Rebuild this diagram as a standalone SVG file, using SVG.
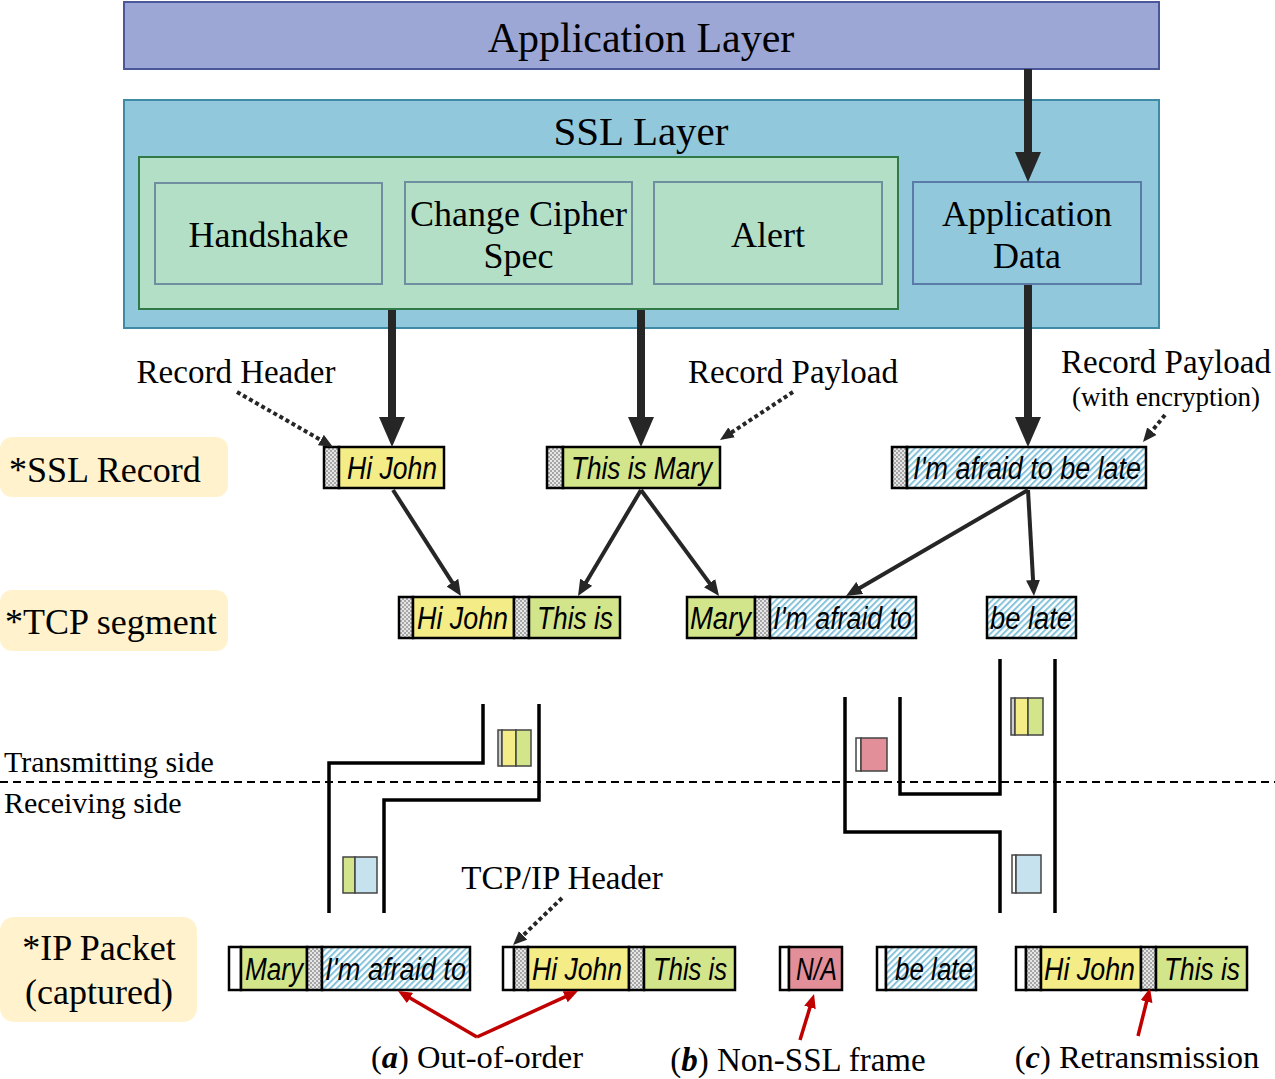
<svg xmlns="http://www.w3.org/2000/svg" width="1275" height="1079" viewBox="0 0 1275 1079">
<style>
.serif{font-family:"Liberation Serif","Times New Roman",serif;fill:#000}
.rec{font-family:"Liberation Sans",Arial,sans-serif;font-style:italic;font-size:31px;fill:#000}
.cell{stroke:#000;stroke-width:2.5}
.y{fill:#f3ec87}.g{fill:#d3e58b}.w{fill:#fff}.r{fill:#e28f99}
.h{fill:url(#hatch)}.c{fill:url(#check)}
.thick{stroke:#262626;stroke-width:8;fill:none}
.med{stroke:#262626;stroke-width:4;fill:none}
.dot{stroke:#262626;stroke-width:4;stroke-dasharray:4 3;fill:none}
.red{stroke:#c00000;stroke-width:3.5;fill:none}
.pipe{stroke:#000;stroke-width:3.5;fill:none}
.mini{stroke:#444;stroke-width:1.5}
.tag{fill:#fff2cc}
</style>
<defs>
<pattern id="hatch" patternUnits="userSpaceOnUse" width="4.5" height="4.5" patternTransform="rotate(45)">
<rect width="4.5" height="4.5" fill="#ffffff"/>
<rect width="2" height="4.5" fill="#86c3da"/>
</pattern>
<pattern id="check" patternUnits="userSpaceOnUse" width="4" height="4">
<rect width="4" height="4" fill="#e6e6e6"/>
<rect width="2" height="2" fill="#a6a6a6"/>
<rect x="2" y="2" width="2" height="2" fill="#a6a6a6"/>
</pattern>
<marker id="mThick" viewBox="0 0 30 26" refX="10" refY="13" markerWidth="30" markerHeight="26" markerUnits="userSpaceOnUse" orient="auto">
<path d="M0,0 L30,13 L0,26 z" fill="#262626"/>
</marker>
<marker id="mMed" viewBox="0 0 16 14" refX="8" refY="7" markerWidth="16" markerHeight="14" markerUnits="userSpaceOnUse" orient="auto">
<path d="M0,0 L16,7 L0,14 z" fill="#262626"/>
</marker>
<marker id="mDot" viewBox="0 0 14 12" refX="7" refY="6" markerWidth="14" markerHeight="12" markerUnits="userSpaceOnUse" orient="auto">
<path d="M0,0 L14,6 L0,12 z" fill="#262626"/>
</marker>
<marker id="mRed" viewBox="0 0 14 12" refX="7" refY="6" markerWidth="14" markerHeight="12" markerUnits="userSpaceOnUse" orient="auto">
<path d="M0,0 L14,6 L0,12 z" fill="#c00000"/>
</marker>
</defs>

<g id="app-layer">
<rect x="124" y="2" width="1035" height="67" fill="#9da7d5" stroke="#4a5899" stroke-width="2"/>
<text class="serif" x="641" y="52" font-size="42" text-anchor="middle">Application Layer</text>
</g>

<g id="ssl-layer">
<rect x="124" y="100" width="1035" height="228" fill="#92c8dc" stroke="#3f8ba5" stroke-width="2"/>
<text class="serif" x="641" y="145" font-size="41" text-anchor="middle">SSL Layer</text>
<rect x="139" y="157" width="759" height="152" fill="#b2dfc5" stroke="#2f7a47" stroke-width="2"/>
</g>
<g id="handshake">
<rect x="155" y="183" width="227" height="101" fill="#b2dfc5" stroke="#6f8fa0" stroke-width="2"/>
<text class="serif" x="268.5" y="247" font-size="36" text-anchor="middle">Handshake</text>
</g>
<g id="change-cipher-spec">
<rect x="405" y="182" width="227" height="102" fill="#b2dfc5" stroke="#6f8fa0" stroke-width="2"/>
<text class="serif" x="518.5" y="226" font-size="36" text-anchor="middle">Change Cipher</text>
<text class="serif" x="518.5" y="268" font-size="36" text-anchor="middle">Spec</text>
</g>
<g id="alert">
<rect x="654" y="182" width="228" height="102" fill="#b2dfc5" stroke="#6f8fa0" stroke-width="2"/>
<text class="serif" x="768" y="247" font-size="36" text-anchor="middle">Alert</text>
</g>
<g id="application-data">
<rect x="913" y="182" width="228" height="102" fill="#92c8dc" stroke="#5a7aa8" stroke-width="2"/>
<text class="serif" x="1027" y="226" font-size="36" text-anchor="middle">Application</text>
<text class="serif" x="1027" y="268" font-size="36" text-anchor="middle">Data</text>
</g>

<g id="labels">
<text class="serif" x="236" y="383" font-size="33" text-anchor="middle">Record Header</text>
<text class="serif" x="793" y="383" font-size="33" text-anchor="middle">Record Payload</text>
<text class="serif" x="1166" y="373" font-size="33" text-anchor="middle">Record Payload</text>
<text class="serif" x="1166" y="406" font-size="27" text-anchor="middle">(with encryption)</text>
<text class="serif" x="562" y="889" font-size="33" text-anchor="middle">TCP/IP Header</text>
<text class="serif" x="4" y="772" font-size="30">Transmitting side</text>
<text class="serif" x="4" y="813" font-size="30">Receiving side</text>
<line x1="0" y1="782" x2="1275" y2="782" stroke="#000" stroke-width="2" stroke-dasharray="8 5"/>
</g>

<g id="tag-ssl-record">
<rect class="tag" x="0" y="437" width="228" height="60" rx="12"/>
<text class="serif" x="9" y="482" font-size="36">*SSL Record</text>
</g>
<g id="tag-tcp-segment">
<rect class="tag" x="0" y="590" width="228" height="61" rx="12"/>
<text class="serif" x="5" y="634" font-size="36">*TCP segment</text>
</g>
<g id="tag-ip-packet">
<rect class="tag" x="0" y="917" width="197" height="105" rx="14"/>
<text class="serif" x="99" y="960" font-size="36" text-anchor="middle">*IP Packet</text>
<text class="serif" x="99" y="1004" font-size="36" text-anchor="middle">(captured)</text>
</g>

<g id="ssl-record-1">
<rect class="cell c" x="324" y="447" width="15" height="41"/>
<rect class="cell y" x="339" y="447" width="105" height="41"/>
<text class="rec" x="347" y="479" textLength="90" lengthAdjust="spacingAndGlyphs">Hi John</text>
</g>
<g id="ssl-record-2">
<rect class="cell c" x="547" y="447" width="16" height="41"/>
<rect class="cell g" x="563" y="447" width="157" height="41"/>
<text class="rec" x="571" y="479" textLength="141" lengthAdjust="spacingAndGlyphs">This is Mary</text>
</g>
<g id="ssl-record-3">
<rect class="cell c" x="892" y="447" width="15" height="41"/>
<rect class="cell h" x="907" y="447" width="239" height="41"/>
<text class="rec" x="913" y="479" textLength="228" lengthAdjust="spacingAndGlyphs">I'm afraid to be late</text>
</g>

<g id="tcp-segment-1">
<rect class="cell c" x="399" y="597" width="14" height="41"/>
<rect class="cell y" x="413" y="597" width="101" height="41"/>
<rect class="cell c" x="514" y="597" width="15" height="41"/>
<rect class="cell g" x="529" y="597" width="91" height="41"/>
<text class="rec" x="417" y="629" textLength="91" lengthAdjust="spacingAndGlyphs">Hi John</text>
<text class="rec" x="537" y="629" textLength="76" lengthAdjust="spacingAndGlyphs">This is</text>
</g>
<g id="tcp-segment-2">
<rect class="cell g" x="687" y="597" width="68" height="41"/>
<rect class="cell c" x="755" y="597" width="15" height="41"/>
<rect class="cell h" x="770" y="597" width="146" height="41"/>
<text class="rec" x="690" y="629" textLength="61" lengthAdjust="spacingAndGlyphs">Mary</text>
<text class="rec" x="773" y="629" textLength="139" lengthAdjust="spacingAndGlyphs">I'm afraid to</text>
</g>
<g id="tcp-segment-3">
<rect class="cell h" x="987" y="597" width="89" height="41"/>
<text class="rec" x="990" y="629" textLength="82" lengthAdjust="spacingAndGlyphs">be late</text>
</g>

<g id="pipe-left">
<polyline class="pipe" points="483,704 483,763 329,763 329,913"/>
<polyline class="pipe" points="539,704 539,800 384,800 384,913"/>
<rect class="mini" x="498" y="730" width="4" height="36" fill="#cfcfcf"/>
<rect class="mini" x="502" y="730" width="14" height="36" fill="#f3ec87"/>
<rect class="mini" x="516" y="730" width="15" height="36" fill="#d3e58b"/>
<rect class="mini" x="343" y="857" width="12" height="36" fill="#d3e58b"/>
<rect class="mini" x="355" y="857" width="22" height="36" fill="#c5e2ee"/>
</g>
<g id="pipe-right">
<polyline class="pipe" points="845,697 845,832 1000,832 1000,913"/>
<polyline class="pipe" points="900,697 900,794 1000,794 1000,659"/>
<line class="pipe" x1="1055" y1="659" x2="1055" y2="913"/>
<rect class="mini" x="856" y="738" width="5" height="33" fill="#fff"/>
<rect class="mini" x="861" y="738" width="26" height="33" fill="#e28f99"/>
<rect class="mini" x="1011" y="698" width="4" height="37" fill="#cfcfcf"/>
<rect class="mini" x="1015" y="698" width="13" height="37" fill="#f3ec87"/>
<rect class="mini" x="1028" y="698" width="15" height="37" fill="#d3e58b"/>
<rect class="mini" x="1012" y="855" width="4" height="38" fill="#fff"/>
<rect class="mini" x="1016" y="855" width="25" height="38" fill="#c5e2ee"/>
</g>

<g id="ip-packet-1">
<rect class="cell w" x="229" y="947" width="12" height="43"/>
<rect class="cell g" x="241" y="947" width="66" height="43"/>
<rect class="cell c" x="307" y="947" width="15" height="43"/>
<rect class="cell h" x="322" y="947" width="148" height="43"/>
<text class="rec" x="245" y="980" textLength="58" lengthAdjust="spacingAndGlyphs">Mary</text>
<text class="rec" x="325" y="980" textLength="141" lengthAdjust="spacingAndGlyphs">I'm afraid to</text>
</g>
<g id="ip-packet-2">
<rect class="cell w" x="503" y="947" width="11" height="43"/>
<rect class="cell c" x="514" y="947" width="14" height="43"/>
<rect class="cell y" x="528" y="947" width="101" height="43"/>
<rect class="cell c" x="629" y="947" width="15" height="43"/>
<rect class="cell g" x="644" y="947" width="91" height="43"/>
<text class="rec" x="532" y="980" textLength="90" lengthAdjust="spacingAndGlyphs">Hi John</text>
<text class="rec" x="653" y="980" textLength="74" lengthAdjust="spacingAndGlyphs">This is</text>
</g>
<g id="ip-packet-3">
<rect class="cell w" x="780" y="947" width="9" height="43"/>
<rect class="cell r" x="789" y="947" width="53" height="43"/>
<text class="rec" x="796" y="980" textLength="41" lengthAdjust="spacingAndGlyphs">N/A</text>
</g>
<g id="ip-packet-4">
<rect class="cell w" x="877" y="947" width="9" height="43"/>
<rect class="cell h" x="886" y="947" width="90" height="43"/>
<text class="rec" x="895" y="980" textLength="78" lengthAdjust="spacingAndGlyphs">be late</text>
</g>
<g id="ip-packet-5">
<rect class="cell w" x="1016" y="947" width="10" height="43"/>
<rect class="cell c" x="1026" y="947" width="15" height="43"/>
<rect class="cell y" x="1041" y="947" width="100" height="43"/>
<rect class="cell c" x="1141" y="947" width="15" height="43"/>
<rect class="cell g" x="1156" y="947" width="91" height="43"/>
<text class="rec" x="1044" y="980" textLength="91" lengthAdjust="spacingAndGlyphs">Hi John</text>
<text class="rec" x="1164" y="980" textLength="76" lengthAdjust="spacingAndGlyphs">This is</text>
</g>

<g id="captions">
<text class="serif" x="477" y="1068" font-size="32.5" text-anchor="middle">(<tspan font-weight="bold" font-style="italic">a</tspan>) Out-of-order</text>
<text class="serif" x="798" y="1071" font-size="33" text-anchor="middle">(<tspan font-weight="bold" font-style="italic">b</tspan>) Non-SSL frame</text>
<text class="serif" x="1137" y="1068" font-size="32.5" text-anchor="middle">(<tspan font-weight="bold" font-style="italic">c</tspan>) Retransmission</text>
</g>

<g id="connectors">
<line class="thick" x1="1028" y1="69" x2="1028" y2="162" marker-end="url(#mThick)"/>
<line class="thick" x1="392" y1="310" x2="392" y2="427" marker-end="url(#mThick)"/>
<line class="thick" x1="641" y1="310" x2="641" y2="427" marker-end="url(#mThick)"/>
<line class="thick" x1="1028" y1="285" x2="1028" y2="427" marker-end="url(#mThick)"/>
<line class="med" x1="393" y1="490" x2="456.7" y2="589.3" marker-end="url(#mMed)"/>
<line class="med" x1="641" y1="490" x2="582.1" y2="589.1" marker-end="url(#mMed)"/>
<line class="med" x1="641" y1="490" x2="714.3" y2="589.6" marker-end="url(#mMed)"/>
<line class="med" x1="1028" y1="490" x2="852.9" y2="592" marker-end="url(#mMed)"/>
<line class="med" x1="1028" y1="490" x2="1033.5" y2="588" marker-end="url(#mMed)"/>
<line class="dot" x1="237" y1="392" x2="326.9" y2="443.5" marker-end="url(#mDot)"/>
<line class="dot" x1="793" y1="392" x2="725.8" y2="436.2" marker-end="url(#mDot)"/>
<line class="dot" x1="1165" y1="415" x2="1147.4" y2="436.6" marker-end="url(#mDot)"/>
<line class="dot" x1="562" y1="898" x2="518.1" y2="940.2" marker-end="url(#mDot)"/>
<line class="red" x1="477" y1="1037" x2="404" y2="994.5" marker-end="url(#mRed)"/>
<line class="red" x1="477" y1="1037" x2="571.6" y2="993.9" marker-end="url(#mRed)"/>
<line class="red" x1="800" y1="1040" x2="812" y2="1000.7" marker-end="url(#mRed)"/>
<line class="red" x1="1138" y1="1036" x2="1148.3" y2="994.8" marker-end="url(#mRed)"/>
</g>
</svg>
